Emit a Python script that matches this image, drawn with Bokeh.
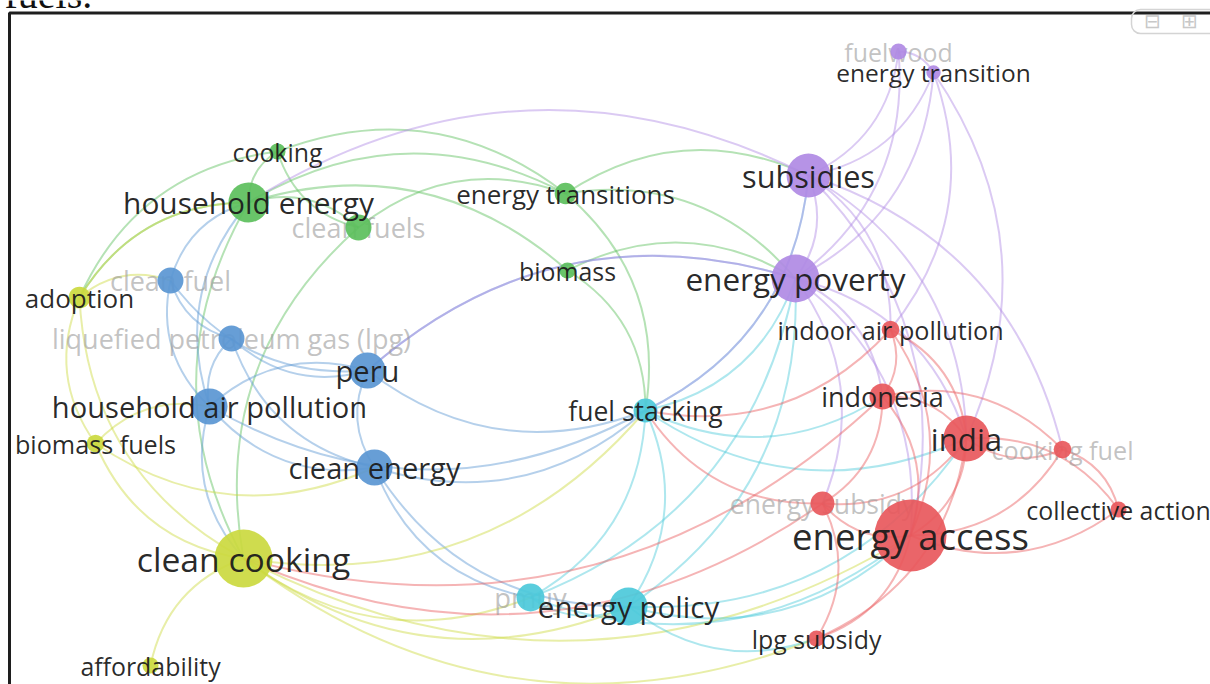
import numpy as np
from bokeh.plotting import figure
from bokeh.models import Range1d, BoxAnnotation, ColumnDataSource
from bokeh.core.properties import value
from bokeh.embed import file_html
from bokeh.resources import INLINE

# ---------------- data (VOSviewer-like map coordinates, occurrences, clusters) -------------
labels = ["fuelwood", "energy transition", "subsidies", "energy poverty",
          "cooking", "household energy", "clean fuels", "energy transitions", "biomass",
          "adoption", "clean fuel", "liquefied petroleum gas (lpg)", "peru",
          "household air pollution", "biomass fuels", "clean energy", "clean cooking",
          "affordability", "fuel stacking", "pmuy", "energy policy",
          "indoor air pollution", "indonesia", "india", "cooking fuel",
          "energy subsidy", "energy access", "collective action", "lpg subsidy"]
map_x = [2.93, 3.28, 2.03, 1.90,
         -3.28, -3.57, -2.47, -0.40, -0.38,
         -5.26, -4.35, -3.74, -2.38,
         -3.96, -5.10, -2.31, -3.62,
         -4.55, 0.40, -0.75, 0.23,
         2.85, 2.77, 3.61, 4.57,
         2.17, 3.05, 5.13, 2.11]
map_y = [2.91, 2.70, 1.67, 0.64,
         1.91, 1.40, 1.15, 1.49, 0.72,
         0.45, 0.62, 0.04, -0.28,
         -0.64, -1.01, -1.25, -2.16,
         -3.23, -0.68, -2.55, -2.64,
         0.13, -0.54, -0.96, -1.07,
         -1.61, -1.93, -1.67, -2.96]
occurrences = [5, 4, 37, 44,
               5, 31, 13, 9, 5,
               9, 13, 13, 25,
               25, 6, 25, 65,
               5, 11, 15, 28,
               6, 13, 41, 6,
               11, 100, 5, 5]
cluster = [5, 5, 5, 5,
           2, 2, 2, 2, 2,
           4, 3, 3, 3,
           3, 4, 3, 4,
           4, 6, 6, 6,
           1, 1, 1, 1,
           1, 1, 1, 1]
faded = ["fuelwood", "clean fuels", "clean fuel", "liquefied petroleum gas (lpg)",
         "energy subsidy", "pmuy", "cooking fuel"]

edge_source = [
    "cooking", "cooking", "cooking", "household energy", "household energy", "household energy",
    "clean fuels", "energy transitions", "energy transitions", "biomass", "biomass",
    "household energy", "clean fuels", "energy transitions", "cooking", "household energy",
    "clean fuel", "clean fuel", "clean fuel", "clean fuel", "liquefied petroleum gas (lpg)",
    "liquefied petroleum gas (lpg)", "liquefied petroleum gas (lpg)", "household air pollution",
    "household air pollution", "household air pollution", "peru", "peru", "clean energy",
    "clean energy", "household air pollution", "peru", "household air pollution", "clean energy",
    "adoption", "adoption", "adoption", "biomass fuels", "biomass fuels", "clean cooking",
    "clean cooking", "clean cooking", "clean cooking", "clean cooking", "clean cooking",
    "adoption", "biomass fuels",
    "fuel stacking", "fuel stacking", "fuel stacking", "fuel stacking", "fuel stacking",
    "fuel stacking", "energy policy", "energy policy", "energy policy", "energy policy",
    "pmuy", "pmuy", "energy policy",
    "fuelwood", "fuelwood", "fuelwood", "energy transition", "energy transition",
    "energy transition", "energy transition", "subsidies", "subsidies", "subsidies",
    "subsidies", "subsidies", "subsidies", "energy poverty", "energy poverty", "energy poverty",
    "energy poverty", "energy poverty", "subsidies",
    "indoor air pollution", "indoor air pollution", "indoor air pollution", "indoor air pollution",
    "indonesia", "indonesia", "indonesia", "indonesia", "india", "india", "india", "india",
    "cooking fuel", "cooking fuel", "collective action", "energy subsidy", "energy subsidy",
    "energy access", "india", "energy subsidy", "energy subsidy", "indonesia",
]
edge_target = [
    "household energy", "energy transitions", "clean fuels", "energy transitions", "clean fuels", "biomass",
    "energy transitions", "energy poverty", "subsidies", "energy poverty", "fuel stacking",
    "clean cooking", "clean cooking", "fuel stacking", "adoption", "adoption",
    "liquefied petroleum gas (lpg)", "household air pollution", "peru", "household energy", "peru",
    "household air pollution", "clean energy", "peru",
    "clean energy", "clean cooking", "fuel stacking", "clean energy", "energy policy",
    "fuel stacking", "household energy", "energy poverty", "fuel stacking", "pmuy",
    "biomass fuels", "clean cooking", "clean fuel", "clean cooking", "household air pollution",
    "affordability", "energy policy", "energy access", "pmuy", "fuel stacking", "lpg subsidy",
    "household energy", "clean energy",
    "energy policy", "pmuy", "energy poverty", "subsidies", "india", "indonesia",
    "pmuy", "energy access", "lpg subsidy", "energy poverty",
    "energy poverty", "energy access", "india",
    "energy transition", "subsidies", "energy poverty", "subsidies", "energy poverty",
    "indoor air pollution", "india", "energy poverty", "indoor air pollution", "energy access",
    "india", "fuel stacking", "household energy", "indonesia", "india", "energy access",
    "energy subsidy", "peru", "cooking fuel",
    "indonesia", "india", "energy access", "fuel stacking",
    "india", "energy access", "cooking fuel", "energy subsidy", "cooking fuel", "energy access",
    "energy subsidy", "collective action",
    "energy access", "collective action", "energy access", "energy access", "lpg subsidy",
    "lpg subsidy", "lpg subsidy", "fuel stacking", "clean cooking", "clean cooking",
]

cluster_colors = {1: "#e8585c", 2: "#5cbf5c", 3: "#5a96d2", 4: "#cbd93f",
                  5: "#b08ae4", 6: "#4cc9da"}

# ---------------- derived geometry ----------------
idx = {n: i for i, n in enumerate(labels)}
mx = np.array(map_x)
my = np.array(map_y)
occ = np.array(occurrences, dtype=float)
radius_px = 3.6 * np.sqrt(occ)
font_px = 21.5 + 0.42 * radius_px

s = np.array([idx[a] for a in edge_source])
t = np.array([idx[b] for b in edge_target])
x0, y0, x1, y1 = mx[s], my[s], mx[t], my[t]
dx, dy = x1 - x0, y1 - y0
L = np.hypot(dx, dy)
nx, ny = -dy / L, dx / L
midx, midy = (x0 + x1) / 2, (y0 + y1) / 2
sign = np.where(nx * midx + ny * midy >= 0, 1.0, -1.0)
cx = midx + sign * nx * 0.28 * L
cy = midy + sign * ny * 0.28 * L
ecol = [cluster_colors[cluster[i]] for i in s]

p = figure(width=1210, height=684, output_backend="svg", toolbar_location=None,
           x_range=Range1d(-6.05, 6.05), y_range=Range1d(-3.42, 3.42),
           min_border=0, min_border_left=0, min_border_right=0,
           min_border_top=0, min_border_bottom=0)
p.axis.visible = False
p.grid.visible = False
p.outline_line_color = None
p.background_fill_color = "white"
p.border_fill_color = "white"

def X(px):
    return (px - 605) / 100.0

def Y(py):
    return (342 - py) / 100.0

# window frame and zoom control
p.add_layout(BoxAnnotation(left=X(9), right=X(1225), top=Y(12.5), bottom=Y(700),
                           fill_alpha=0, line_color="#1e1e1e", line_alpha=1,
                           line_width=3))
p.add_layout(BoxAnnotation(left=X(1131), right=X(1218), top=Y(9), bottom=Y(33),
                           fill_alpha=0, line_color="#d4d4d4", line_alpha=1,
                           line_width=1.5, border_radius=9))
p.text(x=[X(1152), X(1189)], y=[Y(20), Y(20)], text=["\u229f", "\u229e"],
       text_color="#c8c8c8", text_font_size="20px", text_align="center",
       text_baseline="middle")
p.text(x=[X(4)], y=[Y(-6)], text=["fuels."], text_font=value("Liberation Serif"),
       text_font_size="40px", text_color="#111111", text_baseline="alphabetic")

# edges
p.quadratic(x0=x0, y0=y0, x1=x1, y1=y1, cx=cx, cy=cy, line_color=ecol,
            line_alpha=0.45, line_width=2)

fade_mask = np.array([n in faded for n in labels])
lab_src = ColumnDataSource(dict(x=mx, y=my, text=labels,
                                fs=[f"{v:.1f}px" for v in font_px]))
faded_src = ColumnDataSource({k: [v for v, f in zip(col, fade_mask) if f]
                              for k, col in lab_src.data.items()})
dark_src = ColumnDataSource({k: [v for v, f in zip(col, fade_mask) if not f]
                             for k, col in lab_src.data.items()})

p.text(x="x", y="y", text="text", source=faded_src, text_font=value("Open Sans"),
       text_font_size="fs", text_color="#9a9a9a", text_alpha=0.6,
       text_align="center", text_baseline="middle")

# nodes
p.scatter(x=mx, y=my, size=2 * radius_px,
          fill_color=[cluster_colors[c] for c in cluster], fill_alpha=0.92,
          line_color=None)

p.text(x="x", y="y", text="text", source=dark_src, text_font=value("Open Sans"),
       text_font_size="fs", text_color="#1c1c1c", text_alpha=0.95,
       text_align="center", text_baseline="middle")

open("out.html", "w").write(file_html(p, INLINE))
